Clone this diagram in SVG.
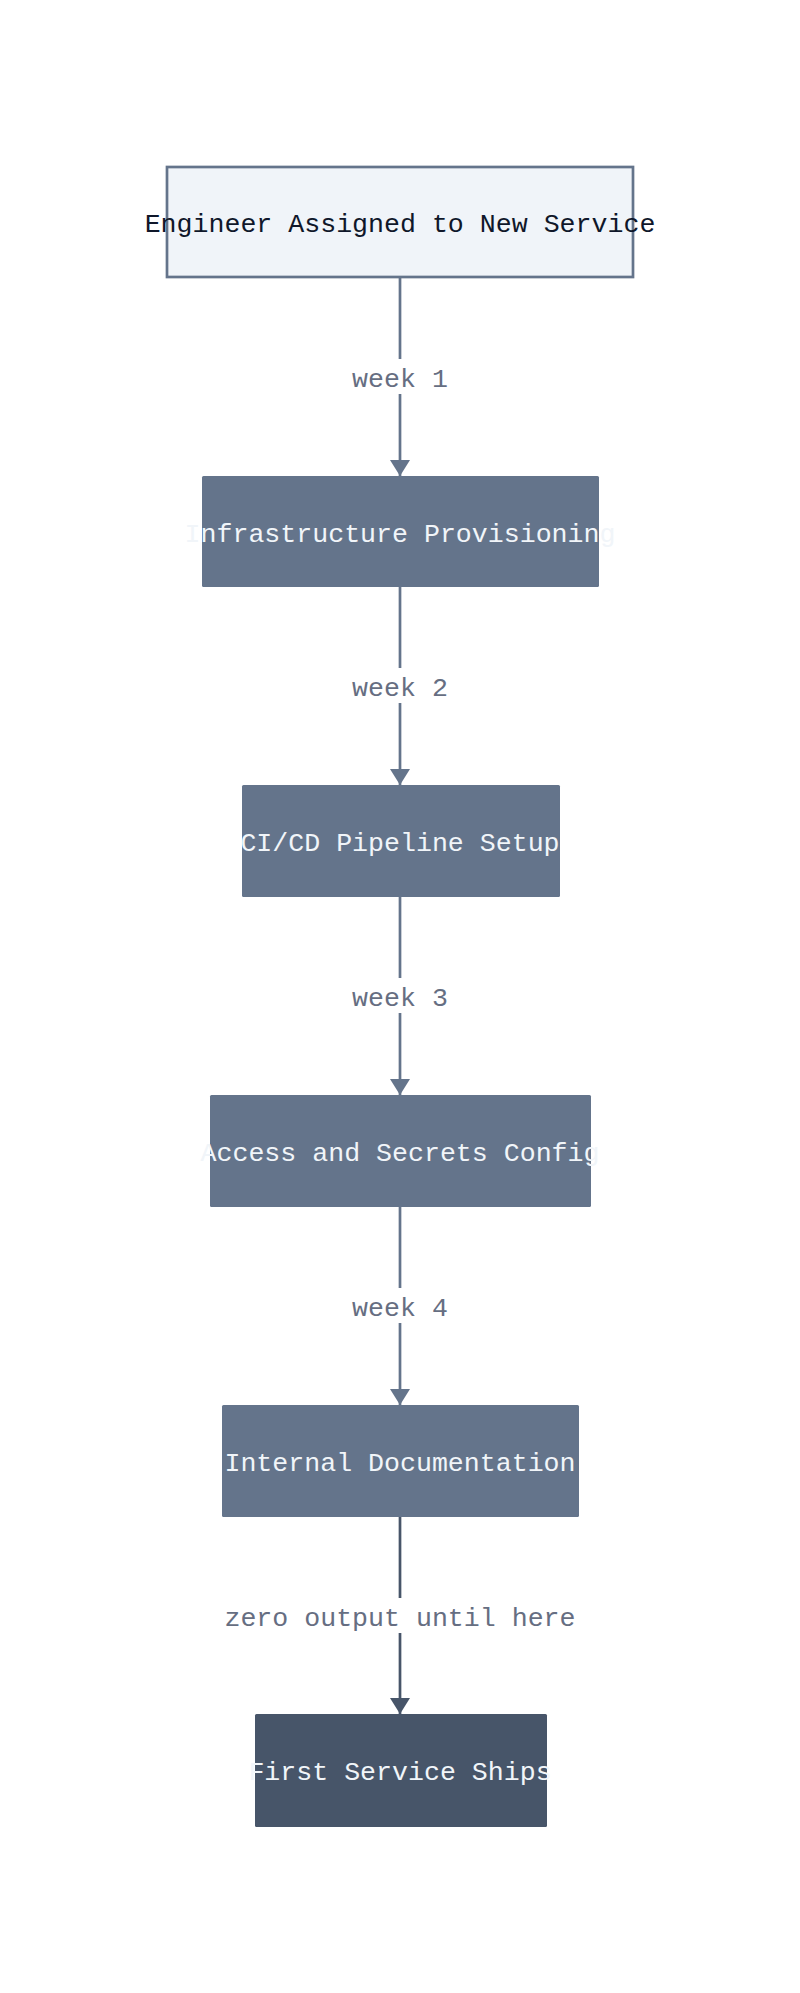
<svg xmlns="http://www.w3.org/2000/svg" width="800" height="1993" viewBox="0 0 800 1993">
<style>
  text { font-family: "Liberation Mono", "DejaVu Sans Mono", monospace; font-size: 26.6px; text-anchor: middle; dominant-baseline: central; }
  .node rect { fill: #64748b; }
  .node text { fill: #f1f5f9; }
  .start rect { fill: #f0f4f9; stroke: #64748b; stroke-width: 2.7; }
  .start text { fill: #0f172a; }
  .final rect { fill: #475569; }
  .edge { stroke: #64748b; stroke-width: 2.7; fill: none; }
  .edge.dark { stroke: #475569; }
  .lbl { fill: #666e82; }
  .lblbg { fill: #ffffff; }
</style>
<defs>
  <marker id="arr" viewBox="0 0 16 20" refX="16" refY="10" markerWidth="16" markerHeight="20" markerUnits="userSpaceOnUse" orient="auto">
    <path d="M0,0 L16,10 L0,20 z" fill="#64748b"/>
  </marker>
  <marker id="arrDark" viewBox="0 0 16 20" refX="16" refY="10" markerWidth="16" markerHeight="20" markerUnits="userSpaceOnUse" orient="auto">
    <path d="M0,0 L16,10 L0,20 z" fill="#475569"/>
  </marker>
</defs>
<rect x="0" y="0" width="800" height="1993" fill="#ffffff"/>

<g id="connectors">
  <path class="edge" d="M400,277 L400,476" marker-end="url(#arr)"/>
  <path class="edge" d="M400,587 L400,785" marker-end="url(#arr)"/>
  <path class="edge" d="M400,897 L400,1095" marker-end="url(#arr)"/>
  <path class="edge" d="M400,1207 L400,1405" marker-end="url(#arr)"/>
  <path class="edge dark" d="M400,1517 L400,1714" marker-end="url(#arrDark)"/>
  <g id="edge-labels">
    <rect class="lblbg" x="350" y="359" width="100" height="35"/>
    <text class="lbl" x="400" y="379.5">week 1</text>
    <rect class="lblbg" x="350" y="668" width="100" height="35"/>
    <text class="lbl" x="400" y="688.5">week 2</text>
    <rect class="lblbg" x="350" y="978" width="100" height="35"/>
    <text class="lbl" x="400" y="998.5">week 3</text>
    <rect class="lblbg" x="350" y="1288" width="100" height="35"/>
    <text class="lbl" x="400" y="1308.5">week 4</text>
    <rect class="lblbg" x="222" y="1598" width="356" height="35"/>
    <text class="lbl" x="400" y="1618.5">zero output until here</text>
  </g>
</g>

<g id="n1" class="start">
  <rect x="167" y="167" width="466" height="110"/>
  <text x="400" y="224.5">Engineer Assigned to New Service</text>
</g>
<g id="n2" class="node">
  <rect x="202" y="476" width="397" height="111" rx="1.5"/>
  <text x="400" y="534.5">Infrastructure Provisioning</text>
</g>
<g id="n3" class="node">
  <rect x="242" y="785" width="318" height="112" rx="1.5"/>
  <text x="400" y="843.5">CI/CD Pipeline Setup</text>
</g>
<g id="n4" class="node">
  <rect x="210" y="1095" width="381" height="112" rx="1.5"/>
  <text x="400" y="1153.5">Access and Secrets Config</text>
</g>
<g id="n5" class="node">
  <rect x="222" y="1405" width="357" height="112" rx="1.5"/>
  <text x="400" y="1463.5">Internal Documentation</text>
</g>
<g id="n6" class="node final">
  <rect x="255" y="1714" width="292" height="113" rx="1.5"/>
  <text x="400" y="1772.5">First Service Ships</text>
</g>
</svg>
